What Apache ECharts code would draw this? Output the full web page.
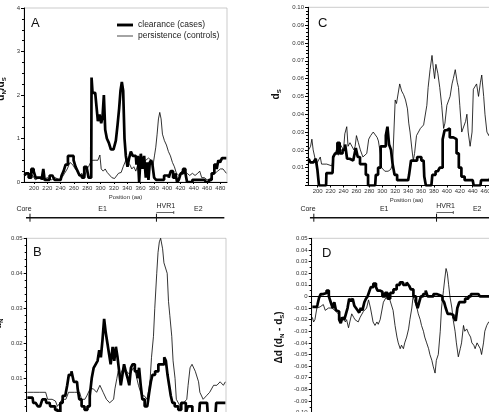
<!DOCTYPE html>
<html>
<head>
<meta charset="utf-8">
<script src="https://cdn.jsdelivr.net/npm/echarts@6/dist/echarts.min.js"></script>
<style>
html, body { margin: 0; padding: 0; background: #fff; }
#main { width: 489px; height: 412px; }
</style>
</head>
<body>
<div id="main"></div>
<script>
// tick labels on the position axis
var posTicks = [200, 220, 240, 260, 280, 300, 320, 340, 360, 380, 400, 420, 440, 460, 480];

// gene map (aa positions)
var geneSpan = [188, 486];
var geneTicks = [194, 384];
var hvr1 = [384, 410];
var geneLabels = [['Core', 185], ['E1', 303], ['HVR1', 398], ['E2', 447]];

// A: dN/dS
var aClearance = [[186,0.15],[190,0.2],[194,0.1],[198,0.3],[201,0.25],[204,0.1],[210,0.1],[213,0.05],[215,0.3],[217,0.05],[222,0.05],[225,0.15],[230,0.15],[232,0.05],[240,0.05],[243,0.15],[246,0.25],[249,0.4],[253,0.6],[258,0.6],[261,0.5],[264,0.35],[267,0.25],[270,0.15],[274,0.1],[277,0.35],[281,0.35],[283,0.1],[286,0.1],[287,2.4],[289,2.05],[292,2.05],[295,1.8],[297,1.4],[300,1.55],[302,1.35],[304,1.5],[306,2.0],[308,1.2],[311,1.0],[314,0.9],[317,0.75],[322,0.75],[324,0.95],[327,1.3],[329,1.7],[331,2.1],[333,2.3],[335,2.1],[337,1.0],[339,0.6],[342,0.35],[344,0.55],[347,0.7],[350,0.6],[353,0.6],[355,0.4],[357,0.6],[359,0.0],[362,0.65],[364,0.3],[367,0.6],[369,0.1],[371,0.45],[373,0.05],[375,0.45],[377,0.5],[379,0.4],[382,0.1],[385,0.05],[390,0.05],[394,0.05],[397,0.15],[401,0.15],[404,0.1],[407,0.25],[411,0.1],[414,0.2],[416,0.0],[419,0.05],[422,0.2],[426,0.3],[429,0.2],[431,0.0],[436,0.0],[440,0.05],[450,0.05],[456,0.05],[461,0.0],[465,0.05],[469,0.2],[473,0.4],[476,0.3],[478,0.5],[481,0.45],[484,0.55],[489,0.55]];
var aPersistence = [[186,0.15],[190,0.2],[194,0.1],[198,0.15],[202,0.05],[208,0.1],[214,0.05],[220,0.1],[226,0.05],[232,0.1],[238,0.05],[242,0.1],[246,0.2],[250,0.3],[254,0.45],[258,0.4],[262,0.3],[265,0.25],[268,0.15],[272,0.2],[276,0.1],[279,0.3],[282,0.35],[285,0.45],[288,0.5],[292,0.5],[296,0.5],[299,0.62],[301,0.3],[304,0.25],[307,0.3],[310,0.22],[313,0.2],[317,0.1],[321,0.08],[324,0.12],[327,0.2],[331,0.22],[334,0.35],[338,0.5],[341,0.45],[344,0.4],[347,0.3],[350,0.35],[353,0.25],[356,0.4],[360,0.35],[364,0.45],[368,0.5],[372,0.55],[376,0.5],[379,0.4],[381,0.6],[383,0.8],[385,1.1],[387,1.45],[389,1.6],[391,1.45],[393,1.1],[396,0.95],[399,0.85],[402,0.7],[405,0.6],[408,0.45],[411,0.35],[414,0.2],[418,0.15],[422,0.25],[426,0.25],[430,0.2],[434,0.15],[438,0.2],[442,0.15],[446,0.2],[449,0.25],[452,0.1],[456,0.1],[460,0.05],[464,0.05],[468,0.15],[472,0.2],[476,0.25],[480,0.3],[484,0.3],[489,0.2]];

// C: dS
var cClearance = [[186,0.015],[191,0.013],[196,0.013],[198,0.015],[201,0.009],[203,0.0],[213,0.0],[214,0.007],[223,0.007],[225,0.016],[229,0.018],[232,0.024],[236,0.018],[241,0.02],[244,0.023],[247,0.015],[252,0.014],[258,0.014],[260,0.021],[264,0.016],[267,0.012],[273,0.012],[276,0.006],[280,0.0],[289,0.0],[291,0.006],[296,0.01],[299,0.022],[304,0.022],[307,0.028],[309,0.033],[312,0.023],[315,0.02],[317,0.012],[321,0.006],[325,0.003],[340,0.003],[343,0.006],[346,0.014],[351,0.014],[357,0.016],[364,0.014],[366,0.005],[369,0.0],[376,0.0],[379,0.006],[386,0.008],[392,0.01],[395,0.026],[398,0.031],[402,0.032],[407,0.027],[413,0.026],[417,0.018],[420,0.01],[425,0.005],[430,0.003],[440,0.003],[443,0.0],[452,0.0],[454,0.003],[466,0.003],[472,0.006],[480,0.008],[489,0.006]];
var cPersistence = [[186,0.02],[189,0.022],[191,0.026],[193,0.02],[196,0.015],[198,0.012],[201,0.013],[204,0.016],[206,0.012],[214,0.012],[222,0.011],[224,0.015],[229,0.02],[232,0.017],[235,0.023],[238,0.022],[240,0.02],[242,0.029],[245,0.033],[247,0.022],[250,0.024],[253,0.025],[256,0.02],[258,0.022],[260,0.028],[263,0.024],[266,0.02],[270,0.016],[273,0.016],[276,0.018],[279,0.026],[282,0.028],[286,0.03],[289,0.029],[292,0.027],[294,0.025],[297,0.018],[299,0.01],[304,0.008],[309,0.008],[313,0.009],[316,0.012],[318,0.03],[320,0.048],[322,0.046],[324,0.045],[327,0.057],[330,0.053],[333,0.051],[336,0.048],[339,0.043],[341,0.035],[343,0.03],[346,0.02],[348,0.014],[350,0.018],[353,0.028],[356,0.03],[359,0.032],[361,0.033],[364,0.034],[366,0.035],[369,0.045],[371,0.055],[374,0.065],[377,0.073],[379,0.066],[381,0.06],[383,0.068],[386,0.063],[389,0.055],[392,0.045],[395,0.032],[397,0.035],[400,0.045],[403,0.048],[405,0.05],[408,0.057],[410,0.06],[413,0.065],[416,0.058],[418,0.055],[420,0.045],[423,0.03],[426,0.03],[429,0.036],[431,0.04],[433,0.03],[436,0.022],[439,0.03],[441,0.054],[444,0.055],[446,0.057],[449,0.05],[452,0.058],[454,0.062],[457,0.05],[459,0.04],[462,0.03],[465,0.028],[470,0.035],[476,0.045],[482,0.04],[489,0.035]];

// B: dN
var bClearance = [[186,0.0045],[194,0.0045],[196,0.003],[201,0.003],[203,0.002],[208,0.002],[210,0.004],[214,0.004],[216,0.003],[220,0.003],[222,0.002],[227,0.002],[230,0.001],[235,0.0],[238,0.003],[242,0.005],[246,0.005],[248,0.008],[251,0.011],[256,0.012],[258,0.009],[262,0.009],[264,0.007],[267,0.004],[271,0.002],[276,0.001],[280,0.002],[283,0.005],[286,0.01],[289,0.013],[292,0.014],[295,0.015],[297,0.018],[300,0.016],[302,0.021],[305,0.027],[307,0.023],[310,0.02],[312,0.017],[315,0.014],[318,0.019],[320,0.015],[323,0.019],[325,0.016],[328,0.012],[330,0.008],[333,0.011],[335,0.014],[338,0.012],[341,0.01],[343,0.008],[346,0.013],[348,0.014],[353,0.012],[356,0.01],[358,0.013],[361,0.008],[363,0.004],[368,0.002],[371,0.002],[374,0.006],[376,0.009],[379,0.011],[384,0.012],[389,0.014],[394,0.014],[397,0.016],[399,0.015],[402,0.011],[404,0.008],[407,0.005],[409,0.003],[414,0.002],[420,0.001],[423,0.003],[427,0.003],[430,0.0],[433,0.002],[437,0.002],[440,0.0],[449,0.0],[451,0.003],[461,0.003],[463,0.0],[474,0.0],[476,0.003],[489,0.003]];
var bPersistence = [[186,0.006],[195,0.006],[205,0.006],[214,0.006],[217,0.004],[224,0.004],[229,0.0035],[232,0.002],[236,0.003],[239,0.004],[245,0.004],[249,0.006],[258,0.006],[266,0.006],[269,0.004],[274,0.004],[277,0.005],[282,0.007],[287,0.007],[292,0.006],[297,0.008],[302,0.006],[307,0.004],[312,0.003],[318,0.004],[320,0.007],[323,0.01],[325,0.012],[328,0.011],[333,0.013],[338,0.012],[343,0.011],[348,0.013],[351,0.012],[356,0.008],[361,0.005],[365,0.005],[369,0.004],[372,0.007],[374,0.01],[376,0.016],[379,0.022],[381,0.03],[384,0.04],[386,0.046],[388,0.049],[390,0.05],[393,0.047],[395,0.043],[398,0.043],[400,0.04],[402,0.032],[404,0.028],[407,0.022],[409,0.015],[412,0.01],[414,0.004],[420,0.002],[425,0.003],[430,0.004],[432,0.008],[435,0.013],[438,0.014],[440,0.014],[443,0.012],[448,0.009],[450,0.006],[455,0.004],[460,0.005],[465,0.006],[471,0.008],[476,0.008],[481,0.009],[486,0.008],[489,0.009]];

// D: dN - dS
var dClearance = [[186,-0.009],[193,-0.009],[195,-0.007],[198,-0.001],[200,0.002],[206,0.003],[210,0.005],[213,0.0],[216,-0.005],[219,-0.01],[221,-0.005],[224,-0.012],[226,-0.013],[229,-0.02],[231,-0.023],[234,-0.018],[237,-0.02],[239,-0.015],[242,-0.01],[244,-0.002],[247,-0.004],[250,-0.002],[252,-0.008],[255,-0.01],[257,-0.012],[260,-0.014],[262,-0.01],[265,-0.012],[268,-0.005],[270,-0.002],[273,0.0],[275,0.004],[278,0.008],[283,0.011],[286,0.008],[288,0.005],[293,0.004],[296,0.0],[301,0.003],[304,-0.002],[309,0.003],[314,0.006],[319,0.01],[324,0.012],[329,0.01],[335,0.012],[337,0.009],[340,0.006],[345,0.0],[348,-0.005],[350,-0.01],[353,-0.005],[355,0.0],[360,0.002],[363,0.005],[366,0.0],[371,0.0],[376,0.002],[381,0.001],[386,0.0],[389,-0.003],[391,-0.005],[394,-0.01],[397,-0.015],[402,-0.016],[407,-0.018],[409,-0.021],[412,-0.01],[415,-0.005],[420,-0.005],[425,-0.002],[430,0.0],[433,0.002],[443,0.002],[448,0.0],[460,0.0],[470,0.001],[480,0.0],[489,0.0]];
var dPersistence = [[186,-0.018],[188,-0.022],[190,-0.02],[193,-0.01],[198,-0.009],[203,-0.007],[206,-0.012],[211,-0.01],[216,-0.01],[221,-0.012],[226,-0.015],[231,-0.02],[234,-0.018],[237,-0.022],[239,-0.02],[242,-0.027],[244,-0.022],[247,-0.015],[250,-0.018],[252,-0.02],[257,-0.022],[260,-0.018],[265,-0.013],[270,-0.01],[273,-0.003],[276,-0.01],[278,-0.016],[280,-0.022],[283,-0.025],[286,-0.022],[288,-0.024],[291,-0.02],[293,-0.02],[296,-0.005],[301,0.0],[306,-0.003],[311,-0.012],[314,-0.025],[317,-0.035],[319,-0.04],[322,-0.045],[324,-0.042],[327,-0.045],[329,-0.04],[332,-0.035],[335,-0.028],[337,-0.02],[340,-0.01],[342,0.0],[345,-0.005],[348,-0.01],[350,-0.015],[353,-0.02],[355,-0.025],[358,-0.03],[360,-0.035],[363,-0.04],[366,-0.045],[368,-0.05],[371,-0.055],[373,-0.06],[376,-0.066],[378,-0.055],[381,-0.05],[384,-0.03],[386,-0.01],[389,0.005],[391,0.015],[393,0.024],[395,0.02],[397,0.01],[399,0.0],[402,-0.01],[404,-0.02],[407,-0.03],[409,-0.04],[412,-0.052],[415,-0.045],[417,-0.04],[420,-0.025],[422,-0.03],[425,-0.028],[428,-0.032],[431,-0.035],[433,-0.04],[436,-0.042],[438,-0.045],[441,-0.04],[443,-0.04],[446,-0.045],[448,-0.05],[451,-0.04],[453,-0.03],[456,-0.025],[459,-0.022],[465,-0.02],[472,-0.018],[480,-0.015],[489,-0.015]];

var FONT = 'Liberation Sans';
var chart = echarts.init(document.getElementById('main'));

function xAx(grid, withLabels) {
    return {
        type: 'value', gridIndex: grid, min: 185, max: 490,
        axisLine: { lineStyle: { color: '#000', width: 1 } },
        axisTick: { show: withLabels, customValues: posTicks, length: 2, lineStyle: { color: '#000' } },
        axisLabel: { show: withLabels, customValues: posTicks, fontSize: 6, margin: 3, color: '#333', fontFamily: FONT },
        splitLine: { show: false },
        name: withLabels ? 'Position (aa)' : '',
        nameLocation: 'middle', nameGap: 12,
        nameTextStyle: { fontSize: 6, color: '#333', fontFamily: FONT }
    };
}

var subRich = {
    d: { fontSize: 10, fontWeight: 'bold', fontFamily: FONT, color: '#111', lineHeight: 12 },
    s: { fontSize: 6, fontWeight: 'bold', fontFamily: FONT, color: '#111', lineHeight: 12, verticalAlign: 'bottom', padding: [4, 0, 0, 0] }
};

function yAx(grid, min, max, interval, minorSplit, fmt, name, gap, pad) {
    return {
        type: 'value', gridIndex: grid, min: min, max: max, interval: interval,
        axisLine: { show: true, lineStyle: { color: '#000', width: 1 } },
        axisTick: { show: true, length: 3, lineStyle: { color: '#000' } },
        minorTick: { show: true, splitNumber: minorSplit, length: 2, lineStyle: { color: '#000' } },
        axisLabel: { fontSize: 6, margin: 4, color: '#333', fontFamily: FONT, formatter: fmt },
        splitLine: { show: false },
        name: name, nameLocation: 'middle', nameGap: gap, nameRotate: 90,
        nameTextStyle: { rich: subRich, padding: pad }
    };
}

function lines(idx, clear, persist) {
    return [
        { name: 'clearance (cases)', type: 'line', xAxisIndex: idx, yAxisIndex: idx, data: clear,
          step: 'middle', symbol: 'none', lineStyle: { color: '#000', width: 2.7 }, itemStyle: { color: '#000' },
          silent: true, animation: false, z: 2 },
        { name: 'persistence (controls)', type: 'line', xAxisIndex: idx, yAxisIndex: idx, data: persist,
          symbol: 'none', lineStyle: { color: '#000', width: 0.8 }, itemStyle: { color: '#000' },
          silent: true, animation: false, z: 3 }
    ];
}

var fmt2 = function (v) { return Math.abs(v) < 1e-9 ? '' : v.toFixed(2); };
var fmtD = function (v) { return Math.abs(v) < 1e-9 ? '0' : v.toFixed(2); };

var series = [].concat(
    lines(0, aClearance, aPersistence),
    lines(1, cClearance, cPersistence),
    lines(2, bClearance, bPersistence),
    lines(3, dClearance, dPersistence)
);
// dashed zero reference in D
series[7].markLine = {
    silent: true, symbol: 'none', label: { show: false },
    lineStyle: { color: '#000', type: [3, 2], width: 0.8 },
    data: [{ yAxis: 0 }]
};

var gridBase = { show: true, borderColor: '#aaa', borderWidth: 0.6, outerBoundsMode: 'none', containLabel: false };

var option = {
    backgroundColor: '#fff',
    animation: false,
    grid: [
        Object.assign({ left: 24, top: 8, width: 203, height: 174 }, gridBase),
        Object.assign({ left: 308, top: 7.3, width: 197, height: 178.2 }, gridBase),
        Object.assign({ left: 26.7, top: 238.3, width: 199.3, height: 175 }, gridBase),
        Object.assign({ left: 311.7, top: 238.3, width: 197, height: 174.3 }, gridBase)
    ],
    xAxis: [xAx(0, true), xAx(1, true), xAx(2, false), xAx(3, false)],
    yAxis: [
        yAx(0, 0, 4, 1, 4, null, '{d|d}{s|N}{d|/d}{s|S}', 17, [0, 0, 0, 12]),
        yAx(1, 0, 0.1, 0.01, 5, fmt2, '{d|d}{s|S}', 26, [0, 0, 0, 4]),
        yAx(2, 0, 0.05, 0.01, 5, fmt2, '{d|d}{s|N}', 22, [0, 0, 0, 4]),
        yAx(3, -0.1, 0.05, 0.01, 2, fmtD, '{d|\u0394d (d}{s|N}{d| - d}{s|S}{d|)}', 26, [0, 24, 0, 0])
    ],
    legend: {
        data: [
            { name: 'clearance (cases)', icon: 'path://M0,0H20V3.6H0Z' },
            { name: 'persistence (controls)', icon: 'path://M0,0H20V0.9H0Z' }
        ],
        orient: 'vertical', left: 112, top: 15, itemWidth: 16, itemHeight: 6, itemGap: 1,
        symbolKeepAspect: true,
        selectedMode: false,
        itemStyle: { color: '#000' },
        textStyle: { fontSize: 8.5, fontFamily: FONT, color: '#222', lineHeight: 10 }
    },
    series: series
};
chart.setOption(option);

// panel letters and gene maps
var letters = [['A', 31, 23.5], ['C', 318, 23.5], ['B', 33, 252], ['D', 322, 253]];
var graphics = letters.map(function (l) {
    return { type: 'text', x: l[1], y: l[2], silent: true,
        style: { text: l[0], font: '13px ' + FONT, fill: '#111', textVerticalAlign: 'middle' } };
});

function geneMap(axisIdx) {
    var px = function (aa) { return chart.convertToPixel({ xAxisIndex: axisIdx }, aa); };
    var yLine = 217.7, els = [];
    els.push({ type: 'line', silent: true, shape: { x1: px(geneSpan[0]), y1: yLine, x2: px(geneSpan[1]), y2: yLine }, style: { stroke: '#111', lineWidth: 1.6 } });
    geneTicks.forEach(function (t) {
        els.push({ type: 'line', silent: true, shape: { x1: px(t), y1: yLine - 4, x2: px(t), y2: yLine + 4 }, style: { stroke: '#111', lineWidth: 1 } });
    });
    var yb = 212.5;
    els.push({ type: 'line', silent: true, shape: { x1: px(hvr1[0]), y1: yb, x2: px(hvr1[1]), y2: yb }, style: { stroke: '#222', lineWidth: 0.7 } });
    els.push({ type: 'line', silent: true, shape: { x1: px(hvr1[1]), y1: yb - 1.5, x2: px(hvr1[1]), y2: yb + 1.5 }, style: { stroke: '#222', lineWidth: 0.7 } });
    geneLabels.forEach(function (g) {
        els.push({ type: 'text', silent: true, x: px(g[1]), y: g[0] === 'HVR1' ? 206 : 209,
            style: { text: g[0], font: '7px ' + FONT, fill: '#222', textAlign: 'center', textVerticalAlign: 'middle' } });
    });
    return els;
}
graphics = graphics.concat(geneMap(0), geneMap(1));
chart.setOption({ graphic: graphics });
</script>
</body>
</html>
